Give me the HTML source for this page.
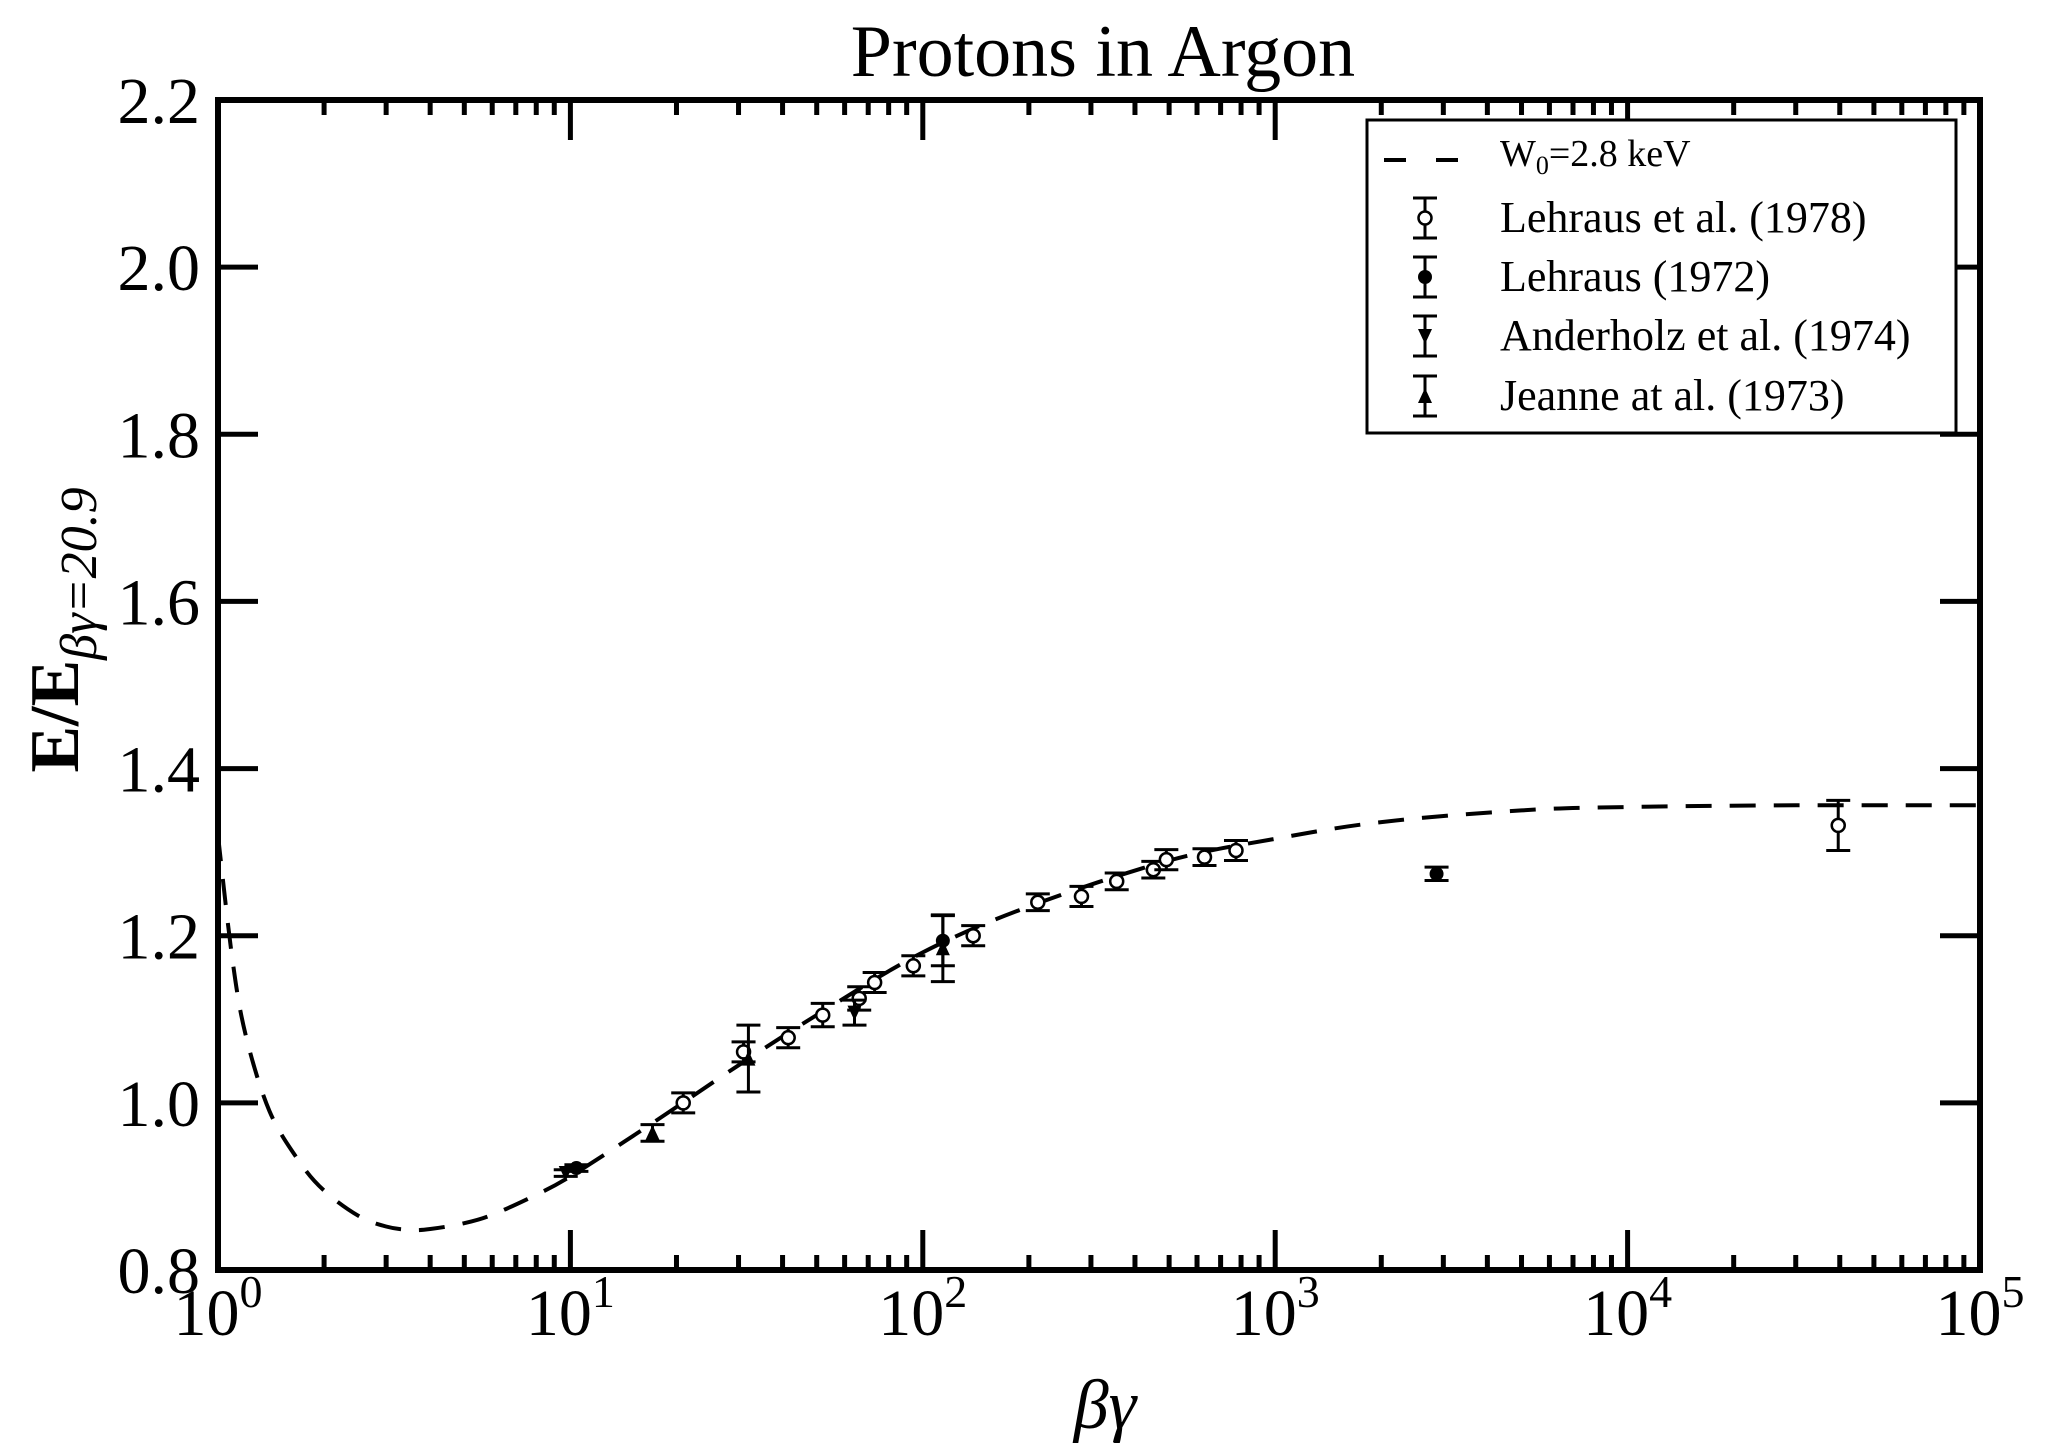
<!DOCTYPE html>
<html><head><meta charset="utf-8"><title>Protons in Argon</title>
<style>
html,body{margin:0;padding:0;background:#fff;}
svg{display:block;font-family:"Liberation Serif","DejaVu Serif",serif;}
</style></head>
<body>
<svg id="chart" width="2052" height="1452" viewBox="0 0 2052 1452" xmlns="http://www.w3.org/2000/svg">
<text x="1103" y="76" font-size="74" text-anchor="middle">Protons in Argon</text>
<g id="plot"></g>
<text x="1105" y="1428" font-size="70" font-style="italic" text-anchor="middle">βγ</text>
<text transform="translate(78,630) rotate(-90)" font-size="70" text-anchor="middle"><tspan font-weight="bold">E/E</tspan><tspan font-size="52" font-style="italic" dy="18">βγ=20.9</tspan></text>
<g>
<rect x="1367" y="120" width="589" height="313" fill="#fff" stroke="#000" stroke-width="3"/>
<line x1="1384" y1="160" x2="1460" y2="160" stroke="#000" stroke-width="4" stroke-dasharray="22,30"/>
<text x="1500" y="166" font-size="38">W<tspan font-size="26" dy="8">0</tspan><tspan dy="-8">=2.8 keV</tspan></text>
<g id="legmarks"></g>
<text x="1500" y="232" font-size="44">Lehraus et al. (1978)</text>
<text x="1500" y="291" font-size="44">Lehraus (1972)</text>
<text x="1500" y="350" font-size="44">Anderholz et al. (1974)</text>
<text x="1500" y="410" font-size="44">Jeanne at al. (1973)</text>
</g>
</svg>
<script>
// Curve data
const curveX = [1.0,1.1,1.2,1.4,1.7,2,2.5,3,3.5,4,5,6,8,10,15,20,30,50,100,200,500,1000,2000,5000,10000,30000,100000];
const curveY = [1.32,1.17,1.08,0.99,0.93,0.895,0.865,0.852,0.848,0.849,0.856,0.866,0.89,0.912,0.96,0.995,1.045,1.105,1.18,1.235,1.29,1.316,1.336,1.35,1.354,1.356,1.356];
// Lehraus et al. (1978) – open circles
const l78X = [20.9,31,41.5,52,66,73,94,139,212,282,355,451,491,630,774,39600];
const l78Y = [1.0,1.061,1.078,1.105,1.125,1.144,1.164,1.2,1.24,1.247,1.265,1.279,1.291,1.294,1.302,1.332];
const l78E = [0.012,0.012,0.012,0.014,0.014,0.012,0.012,0.012,0.01,0.012,0.01,0.01,0.012,0.01,0.012,0.03];
// Lehraus (1972) – filled circles
const l72X = [10.4,114,2870];
const l72Y = [0.922,1.194,1.274];
const l72E = [0.004,0.03,0.008];
// Anderholz et al. (1974) – down triangles
const andX = [9.7,64];
const andY = [0.916,1.108];
const andE = [0.004,0.015];
// Jeanne et al. (1973) – up triangles
const jeaX = [17.1,32,114];
const jeaY = [0.964,1.053,1.185];
const jeaE = [0.01,0.04,0.04];
const yTicks = [0.8,1.0,1.2,1.4,1.6,1.8,2.0,2.2];
const yTickLabels = ["0.8","1.0","1.2","1.4","1.6","1.8","2.0","2.2"];
const xDecades = [0,1,2,3,4,5];

const NS="http://www.w3.org/2000/svg";
const X0=218,X1=1980,Y0=1270,Y1=100;
const xs=v=>X0+(Math.log10(v)-0)/5*(X1-X0);
const ys=v=>Y0-(v-0.8)/1.4*(Y0-Y1);
const plot=document.getElementById('plot');
function mk(tag,attrs,parent){const e=document.createElementNS(NS,tag);for(const k in attrs)e.setAttribute(k,attrs[k]);(parent||plot).appendChild(e);return e;}

// curve (monotone cubic-ish smoothing via Catmull-Rom in pixel space)
const pts=curveX.map((x,i)=>[xs(x),ys(curveY[i])]);
let d='M'+pts[0][0].toFixed(1)+','+pts[0][1].toFixed(1);
for(let i=0;i<pts.length-1;i++){
  const p0=pts[Math.max(0,i-1)],p1=pts[i],p2=pts[i+1],p3=pts[Math.min(pts.length-1,i+2)];
  const c1=[p1[0]+(p2[0]-p0[0])/6,p1[1]+(p2[1]-p0[1])/6];
  const c2=[p2[0]-(p3[0]-p1[0])/6,p2[1]-(p3[1]-p1[1])/6];
  d+=` C${c1[0].toFixed(1)},${c1[1].toFixed(1)} ${c2[0].toFixed(1)},${c2[1].toFixed(1)} ${p2[0].toFixed(1)},${p2[1].toFixed(1)}`;
}
const cv=mk('path',{d:d,fill:'none',stroke:'#000','stroke-width':4,'stroke-dasharray':'26,18'});



function errbar(x,y,e,g){
  const px=xs(x),y1=ys(y-e),y2=ys(y+e);
  mk('line',{x1:px,y1:y1,x2:px,y2:y2,stroke:'#000','stroke-width':3},g);
  mk('line',{x1:px-12,y1:y1,x2:px+12,y2:y1,stroke:'#000','stroke-width':3},g);
  mk('line',{x1:px-12,y1:y2,x2:px+12,y2:y2,stroke:'#000','stroke-width':3},g);
}
function series(X,Y,E,kind,name){
  const g=mk('g',{});
  
  
  X.forEach((x,i)=>{
    errbar(x,Y[i],E[i],g);
    const px=xs(x),py=ys(Y[i]);let m;
    if(kind==='open')m=mk('circle',{cx:px,cy:py,r:6.5,fill:'#fff',stroke:'#000','stroke-width':2.5},g);
    else if(kind==='fill')m=mk('circle',{cx:px,cy:py,r:7,fill:'#000'},g);
    else if(kind==='down')m=mk('polygon',{points:`${px-7},${py-7} ${px+7},${py-7} ${px},${py+8}`,fill:'#000'},g);
    else m=mk('polygon',{points:`${px-7},${py+7} ${px+7},${py+7} ${px},${py-8}`,fill:'#000'},g);
    
    
  });
}
series(l78X,l78Y,l78E,'open','series-lehraus-1978');
series(l72X,l72Y,l72E,'fill','series-lehraus-1972');
series(andX,andY,andE,'down','series-anderholz-1974');
series(jeaX,jeaY,jeaE,'up','series-jeanne-1973');

// axes frame
const fr=mk('rect',{x:X0,y:Y1,width:X1-X0,height:Y0-Y1,fill:'none',stroke:'#000','stroke-width':6});


// x ticks
xDecades.forEach(k=>{
  const px=X0+k/5*(X1-X0);
  mk('line',{x1:px,y1:Y0,x2:px,y2:Y0-40,stroke:'#000','stroke-width':5});
  mk('line',{x1:px,y1:Y1,x2:px,y2:Y1+40,stroke:'#000','stroke-width':5});
  const t=mk('text',{x:px,y:1335,'font-size':66,'text-anchor':'middle'});
  
  
  t.innerHTML='10<tspan font-size="46" dy="-28">'+k+'</tspan>';
  if(k<5)for(let m=2;m<10;m++){
    const mx=xs(m*Math.pow(10,k));
    mk('line',{x1:mx,y1:Y0,x2:mx,y2:Y0-15,stroke:'#000','stroke-width':5});
    mk('line',{x1:mx,y1:Y1,x2:mx,y2:Y1+15,stroke:'#000','stroke-width':5});
  }
});
// y ticks
yTicks.forEach((v,i)=>{
  const py=ys(v);
  mk('line',{x1:X0,y1:py,x2:X0+40,y2:py,stroke:'#000','stroke-width':5});
  mk('line',{x1:X1,y1:py,x2:X1-40,y2:py,stroke:'#000','stroke-width':5});
  const t=mk('text',{x:200,y:py+23,'font-size':66,'text-anchor':'end'});
  
  
  t.textContent=yTickLabels[i];
});

// legend markers
const lg=document.getElementById('legmarks');
[[218,'open'],[277,'fill'],[336,'down'],[396,'up']].forEach(([cy,k])=>{
  const px=1425;
  mk('line',{x1:px,y1:cy-20,x2:px,y2:cy+20,stroke:'#000','stroke-width':3},lg);
  mk('line',{x1:px-12,y1:cy-20,x2:px+12,y2:cy-20,stroke:'#000','stroke-width':3},lg);
  mk('line',{x1:px-12,y1:cy+20,x2:px+12,y2:cy+20,stroke:'#000','stroke-width':3},lg);
  if(k==='open')mk('circle',{cx:px,cy:cy,r:6.5,fill:'#fff',stroke:'#000','stroke-width':2.5},lg);
  else if(k==='fill')mk('circle',{cx:px,cy:cy,r:7,fill:'#000'},lg);
  else if(k==='down')mk('polygon',{points:`${px-7},${cy-7} ${px+7},${cy-7} ${px},${cy+8}`,fill:'#000'},lg);
  else mk('polygon',{points:`${px-7},${cy+7} ${px+7},${cy+7} ${px},${cy-8}`,fill:'#000'},lg);
});
</script>
</body></html>
